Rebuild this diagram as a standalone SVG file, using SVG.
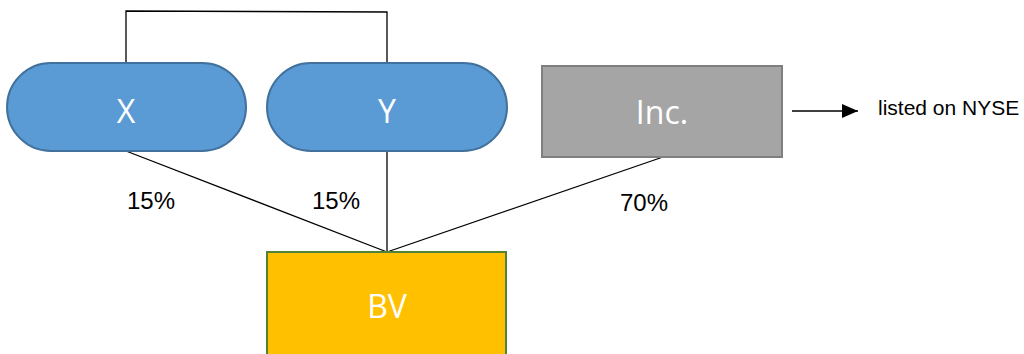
<svg xmlns="http://www.w3.org/2000/svg" width="1024" height="354" viewBox="0 0 1024 354">
<defs>
<style>
.lbl{font-family:"Open Sans","Liberation Sans",sans-serif;font-size:32px;fill:#ffffff;text-anchor:middle}
.pct{font-family:"Liberation Sans",Arial,sans-serif;font-size:24px;fill:#000000}
.note{font-family:"Liberation Sans",Arial,sans-serif;font-size:21px;fill:#000000}
.pill{fill:#5B9BD5;stroke:#41719C;stroke-width:2}
.conn{fill:none;stroke:#000000;stroke-width:1.3}
</style>
<marker id="arr" viewBox="0 0 16 14" refX="16" refY="7" markerWidth="16" markerHeight="14" markerUnits="userSpaceOnUse" orient="auto">
<path d="M0,0 L16,7 L0,14 Z" fill="#000000"/>
</marker>
</defs>
<rect width="1024" height="354" fill="#ffffff"/>
<g id="connectors">
<polyline class="conn" points="126,63 126,11 387,12 387,63"/>
<line class="conn" x1="126" y1="151" x2="387" y2="252"/>
<line class="conn" x1="387" y1="151" x2="387" y2="252"/>
<line class="conn" x1="663" y1="157" x2="387" y2="252"/>
<line class="conn" x1="792" y1="111" x2="858" y2="111" marker-end="url(#arr)"/>
</g>
<g id="node-x">
<rect class="pill" x="7" y="63" width="239" height="88" rx="44" ry="44"/>
<text class="lbl" x="126" y="123">X</text>
</g>
<g id="node-y">
<rect class="pill" x="267" y="63" width="240" height="88" rx="44" ry="44"/>
<text class="lbl" x="387" y="123">Y</text>
</g>
<g id="node-inc">
<rect x="542" y="66" width="240" height="91" fill="#A5A5A5" stroke="#7F7F7F" stroke-width="2"/>
<text class="lbl" x="662" y="124">Inc.</text>
</g>
<g id="node-bv">
<rect x="267" y="252" width="239" height="110" fill="#FFC000" stroke="#538135" stroke-width="2"/>
<text class="lbl" x="387" y="318">BV</text>
</g>
<g id="labels">
<text class="pct" x="127" y="209">15%</text>
<text class="pct" x="312" y="209">15%</text>
<text class="pct" x="620" y="211">70%</text>
<text class="note" x="878" y="115">listed on NYSE</text>
</g>
</svg>
